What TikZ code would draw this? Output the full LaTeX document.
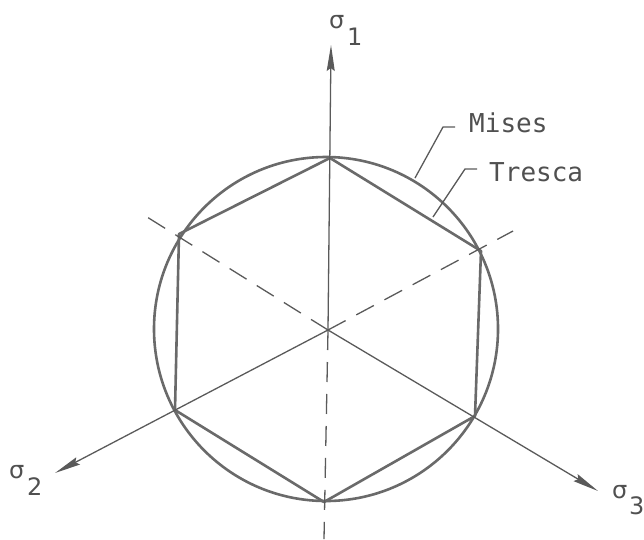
\documentclass[tikz,border=0pt]{standalone}
\usepackage{fontspec}
\setmainfont{DejaVu Sans}
\newfontfamily\monof{DejaVu Sans Mono}
\usetikzlibrary{arrows.meta}
\definecolor{ink}{HTML}{6A6A6A}
\definecolor{axink}{HTML}{5A5A5A}
\definecolor{txt}{HTML}{505050}
\tikzset{
  curve/.style={draw=ink, line width=2.6pt},
  axis/.style={draw=axink, line width=1.3pt},
  dashaxis/.style={draw=axink, line width=1.3pt, dash pattern=on 20pt off 12pt},
  arr/.style={-{Stealth[length=26pt,width=8pt,inset=3pt]}},
  lead/.style={draw=axink, line width=1.3pt},
  lbl/.style={inner sep=0pt, text=txt, font=\monof\fontsize{26}{30}\selectfont},
  sig/.style={inner sep=0pt, text=txt, font=\fontsize{24}{28}\selectfont}
}
\begin{document}
\begin{tikzpicture}[x=1pt,y=-1pt]
\useasboundingbox (0,0) rectangle (644,539);
% key points
\coordinate (O) at (328,330);
\coordinate (C) at (326,329);
\coordinate (T1) at (331,45);
\coordinate (B1) at (324,539);
\coordinate (T2) at (55,473);
\coordinate (D2) at (513,231);
\coordinate (T3) at (598,491);
\coordinate (D3) at (147,217);
% hexagon vertices
\coordinate (V1) at (330,158);
\coordinate (V2) at (481,251);
\coordinate (V3) at (475,416);
\coordinate (V4) at (324,502);
\coordinate (V5) at (175,410);
\coordinate (V6) at (179,234);
% Mises circle and Tresca hexagon
\draw[curve] (C) circle[radius=172];
\draw[curve, line join=round] (V1) -- (V2) -- (V3) -- (V4) -- (V5) -- (V6) -- cycle;
% axes
\draw[axis, arr] (O) -- (T1);
\draw[axis, arr] (O) -- (T2);
\draw[axis, arr] (O) -- (T3);
\draw[dashaxis] (O) -- (B1);
\draw[dashaxis] (O) -- (D2);
\draw[dashaxis] (O) -- (D3);
% labels
\node[sig, anchor=base west] (s1) at (329,28) {σ};
\node[sig, anchor=base west] (n1) at (347,45) {1};
\node[sig, anchor=base west] (s2) at (9,478) {σ};
\node[sig, anchor=base west] (n2) at (27,495) {2};
\node[sig, anchor=base west] (s3) at (612,498) {σ};
\node[sig, anchor=base west] (n3) at (629,514) {3};
\node[lbl, anchor=base west] (mises) at (469,132) {Mises};
\node[lbl, anchor=base west] (tresca) at (489,181) {Tresca};
% leaders
\coordinate (m0) at (415,178);
\coordinate (m1) at (443,127);
\coordinate (m2) at (455,127);
\coordinate (t0) at (433,217);
\coordinate (t1) at (465,169);
\coordinate (t2) at (477,169);
\draw[lead] (m0) -- (m1) -- (m2);
\draw[lead] (t0) -- (t1) -- (t2);
\end{tikzpicture}
\end{document}
